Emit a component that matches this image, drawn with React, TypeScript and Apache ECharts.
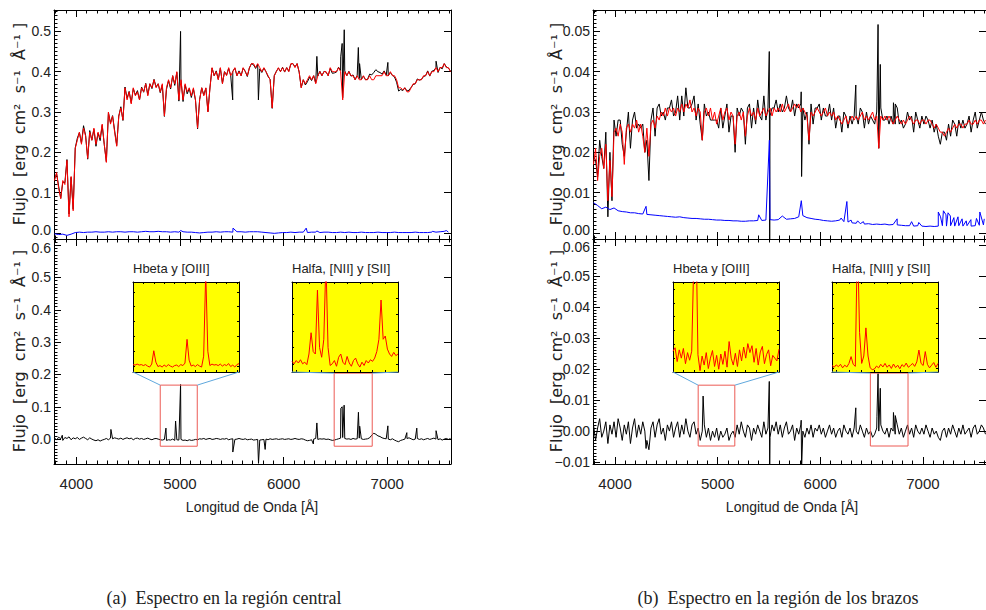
import React, { useEffect, useRef } from "react";
import * as echarts from "echarts";

const SANS = '"Liberation Sans", Arial, sans-serif';
const WIDE = '"DejaVu Sans", sans-serif';
const SERIF = '"Liberation Serif", "DejaVu Serif", serif';

// wavelength sampling of the hand-read spectra
const waveStart = 3790;
const waveStep = 20;
const blueStep = 40;
const X_MIN = 3785;
const X_MAX = 7615;

const xTickValues = [4000, 5000, 6000, 7000];
const leftTopYTicks = [0, 0.1, 0.2, 0.3, 0.4, 0.5];
const leftBottomYTicks = [0, 0.1, 0.2, 0.3, 0.4, 0.5, 0.6];
const rightTopYTicks = [0, 0.01, 0.02, 0.03, 0.04, 0.05];
const rightBottomYTicks = [-0.01, 0, 0.01, 0.02, 0.03, 0.04, 0.05, 0.06];

// ---------- (a) central region ----------
const leftModel = [
  0.13, 0.15, 0.11, 0.085, 0.13, 0.12, 0.18, 0.04, 0.14, 0.055,
  0.21, 0.23, 0.25, 0.22, 0.26, 0.24, 0.185, 0.25, 0.23, 0.26,
  0.22, 0.25, 0.235, 0.27, 0.22, 0.175, 0.3, 0.27, 0.29, 0.25,
  0.215, 0.29, 0.31, 0.28, 0.36, 0.33, 0.35, 0.32, 0.36, 0.34,
  0.35, 0.33, 0.36, 0.35, 0.37, 0.34, 0.37, 0.36, 0.38, 0.36,
  0.37, 0.35, 0.37, 0.29, 0.36, 0.38, 0.36, 0.39, 0.37, 0.4,
  0.33, 0.38, 0.33, 0.37, 0.35, 0.36, 0.34, 0.36, 0.33, 0.26,
  0.33, 0.36, 0.34, 0.36, 0.3, 0.36, 0.41, 0.39, 0.4, 0.38,
  0.41, 0.37, 0.4, 0.39, 0.41, 0.39, 0.4, 0.41, 0.39, 0.4,
  0.39, 0.41, 0.4, 0.39, 0.41, 0.42, 0.42, 0.41, 0.42, 0.41,
  0.4, 0.41, 0.4, 0.39, 0.38, 0.31, 0.39, 0.4, 0.41, 0.4,
  0.41, 0.4, 0.41, 0.4, 0.42, 0.42, 0.41, 0.42, 0.4, 0.36,
  0.38, 0.37, 0.38, 0.39, 0.38, 0.39, 0.37, 0.39, 0.4, 0.39,
  0.4, 0.4, 0.39, 0.41, 0.4, 0.4, 0.4, 0.41, 0.4, 0.33,
  0.4, 0.39, 0.4, 0.39, 0.39, 0.38, 0.39, 0.38, 0.38, 0.39,
  0.38, 0.38, 0.39, 0.38, 0.38, 0.39, 0.39, 0.39, 0.39, 0.4,
  0.39, 0.39, 0.4, 0.39, 0.39, 0.38, 0.36, 0.36, 0.355, 0.36,
  0.35, 0.35, 0.36, 0.37, 0.37, 0.38, 0.38, 0.38, 0.39, 0.39,
  0.4, 0.39, 0.4, 0.4, 0.41, 0.4, 0.41, 0.41, 0.42, 0.41,
  0.41, 0.4,
];
const leftResidual = [
  0.004, -0.003, 0.006, 0.001, -0.004, 0.005, 0.002, 0.007, -0.002, 0.004,
  0.001, 0.005, -0.001, 0.003, 0.006, 0.002, -0.002, 0.004, 0.0, -0.003,
  -0.005, -0.002, -0.006, -0.003, -0.001, 0.002, -0.002, 0.003, 0.001, 0.004,
  0.002, 0.0, 0.003, -0.001, 0.002, 0.004, 0.001, 0.003, -0.002, 0.002,
  0.003, 0.0, 0.002, -0.001, 0.001, 0.003, 0.0, -0.002, 0.001, 0.002,
  0.0, -0.002, -0.003, -0.001, -0.004, -0.002, -0.003, 0.0, -0.004, -0.002,
  -0.003, -0.001, -0.004, -0.003, -0.005, -0.002, -0.004, -0.003, -0.001, -0.002,
  0.001, 0.0, 0.002, -0.001, 0.001, 0.002, -0.001, 0.0, 0.002, 0.001,
  -0.001, 0.001, 0.0, 0.002, -0.002, 0.0, 0.001, -0.001, 0.0, 0.002,
  0.0, -0.001, 0.001, -0.002, -0.001, 0.0, -0.003, -0.002, -0.001, -0.003,
  -0.002, -0.001, 0.0, -0.002, 0.001, -0.001, 0.0, 0.001, -0.001, 0.0,
  0.001, -0.001, 0.0, 0.001, -0.001, 0.0, 0.002, 0.0, -0.001, 0.001,
  0.0, -0.003, -0.005, -0.004, -0.002, 0.0, 0.002, -0.001, 0.001, 0.0,
  0.001, -0.001, 0.0, -0.002, -0.004, -0.003, -0.001, 0.001, 0.003, 0.005,
  0.002, 0.0, 0.001, -0.001, 0.002, 0.0, 0.001, 0.003, 0.001, -0.001,
  0.0, 0.001, 0.004, 0.012, 0.018, 0.015, 0.01, 0.008, 0.004, 0.002,
  0.001, 0.0, -0.002, 0.001, -0.003, -0.006, -0.008, -0.004, -0.002, 0.0,
  0.002, 0.004, 0.001, -0.002, 0.0, 0.002, -0.001, 0.001, -0.002, 0.0,
  0.002, -0.001, 0.001, 0.003, 0.0, -0.002, 0.001, -0.003, 0.0, 0.002,
  -0.001, 0.002,
];
const leftBlue = [
  -0.002, -0.004, -0.003, -0.006, -0.003, 0.001, 0.002, 0.001, 0.002, 0.002,
  0.003, 0.002, 0.002, 0.003, 0.002, 0.003, 0.003, 0.002, 0.003, 0.003,
  0.002, 0.003, 0.004, 0.003, 0.003, 0.004, 0.003, 0.003, 0.002, 0.003,
  0.002, 0.003, 0.002, 0.002, 0.001, 0.0, 0.001, 0.002, 0.002, 0.003,
  0.002, 0.003, 0.003, 0.002, 0.003, 0.003, 0.002, 0.003, 0.003, 0.003,
  0.002, 0.001, 0.0, -0.001, 0.0, 0.001, 0.001, 0.002, 0.001, 0.002,
  0.002, 0.001, 0.002, 0.002, 0.001, 0.002, 0.002, 0.001, 0.001, 0.002,
  0.001, 0.002, 0.001, 0.001, 0.002, 0.001, 0.001, 0.001, 0.002, 0.001,
  0.001, 0.001, 0.002, 0.001, 0.001, 0.001, 0.001, 0.002, 0.001, 0.001,
  0.001, 0.002, 0.002, 0.003, 0.004, 0.002,
];
// [wavelength, flux] narrow features
const leftTopSpikes = [
  [5006, 0.5], [5509, 0.33], [5757, 0.33], [6321, 0.438], [6551, 0.437],
  [6565, 0.47], [6585, 0.504], [6721, 0.46], [6733, 0.42], [7006, 0.423], [7471, 0.426],
];
const leftBottomSpikes = [
  [3865, 0.012], [4334, 0.03], [4865, 0.034], [4958, 0.056], [5006, 0.169],
  [5510, -0.04], [5758, -0.075], [5822, -0.032], [6287, -0.015], [6321, 0.05],
  [6552, 0.095], [6565, 0.1], [6584, 0.105], [6722, 0.083], [6734, 0.04],
  [7006, 0.041], [7189, 0.02], [7285, 0.034], [7471, 0.026],
];
const leftBlueSpikes = [[5008, 0.006], [5512, 0.012], [6218, 0.012], [6320, 0.005], [7435, 0.004], [7570, 0.006]];

// ---------- (b) arms region ----------
const rightModel = [
  0.017, 0.021, 0.013, 0.019, 0.021, 0.016, 0.022, 0.008, 0.018, 0.009,
  0.025, 0.026, 0.024, 0.027, 0.025, 0.017, 0.026, 0.027, 0.025, 0.027,
  0.026, 0.028, 0.025, 0.027, 0.024, 0.02, 0.026, 0.019, 0.027, 0.028,
  0.026, 0.029, 0.028, 0.03, 0.029, 0.031, 0.029, 0.031, 0.03, 0.031,
  0.029, 0.031, 0.03, 0.032, 0.03, 0.032, 0.031, 0.033, 0.03, 0.031,
  0.029, 0.031, 0.03, 0.023, 0.03, 0.031, 0.029, 0.031, 0.028, 0.03,
  0.027, 0.029, 0.031, 0.028, 0.03, 0.031, 0.028, 0.03, 0.029, 0.022,
  0.029, 0.03, 0.028, 0.03, 0.024, 0.029, 0.031, 0.029, 0.03, 0.028,
  0.031, 0.029, 0.03, 0.031, 0.029, 0.03, 0.031, 0.029, 0.031, 0.03,
  0.031, 0.03, 0.032, 0.03, 0.031, 0.032, 0.03, 0.031, 0.032, 0.031,
  0.032, 0.03, 0.031, 0.03, 0.029, 0.023, 0.03, 0.029, 0.03, 0.031,
  0.03, 0.029, 0.03, 0.031, 0.029, 0.03, 0.029, 0.03, 0.028, 0.029,
  0.028, 0.027, 0.028, 0.029, 0.027, 0.028, 0.029, 0.028, 0.029, 0.028,
  0.029, 0.03, 0.028, 0.029, 0.028, 0.029, 0.03, 0.028, 0.029, 0.021,
  0.029, 0.028, 0.029, 0.028, 0.029, 0.028, 0.027, 0.028, 0.029, 0.028,
  0.027, 0.028, 0.027, 0.028, 0.029, 0.028, 0.027, 0.028, 0.028, 0.027,
  0.028, 0.028, 0.027, 0.028, 0.028, 0.027, 0.026, 0.027, 0.026, 0.025,
  0.025, 0.024, 0.025, 0.026, 0.025, 0.026, 0.027, 0.026, 0.027, 0.027,
  0.026, 0.027, 0.027, 0.028, 0.027, 0.027, 0.028, 0.027, 0.028, 0.028,
  0.027, 0.028,
];
const rightResidual = [
  0.002, -0.003, 0.001, 0.004, -0.002, 0.0, 0.003, -0.004, 0.002, -0.001,
  0.003, -0.002, 0.004, 0.001, -0.003, 0.002, -0.001, 0.003, -0.004, 0.001,
  0.004, -0.002, 0.002, -0.001, 0.003, 0.0, -0.003, -0.006, 0.001, 0.003,
  -0.002, 0.002, 0.004, -0.001, 0.001, -0.003, 0.002, 0.0, 0.003, -0.002,
  0.001, 0.003, -0.002, 0.002, -0.001, 0.004, 0.0, -0.002, 0.002, 0.003,
  -0.001, 0.001, -0.003, 0.0, 0.002, -0.002, 0.001, -0.003, 0.0, -0.002,
  0.001, -0.003, 0.0, -0.002, -0.001, 0.001, -0.003, -0.001, 0.0, -0.002,
  0.002, -0.001, 0.003, 0.0, -0.002, 0.002, 0.001, -0.003, 0.001, -0.001,
  0.002, 0.0, -0.002, 0.003, -0.001, 0.001, -0.002, 0.002, 0.0, 0.003,
  -0.001, 0.002, -0.002, 0.001, 0.003, -0.001, 0.0, 0.002, -0.003, 0.001,
  -0.001, 0.002, 0.0, -0.002, 0.001, -0.001, 0.002, -0.002, 0.001, 0.0,
  0.002, -0.001, 0.001, -0.002, 0.0, 0.002, -0.001, 0.001, -0.002, 0.0,
  0.001, -0.002, 0.002, 0.0, -0.001, 0.001, -0.002, 0.001, 0.0, -0.001,
  0.002, 0.0, -0.002, 0.001, -0.001, 0.0, -0.002, -0.001, 0.001, 0.0,
  0.002, 0.0, -0.001, 0.001, -0.002, 0.001, 0.0, -0.001, 0.002, -0.001,
  0.001, -0.002, 0.0, 0.002, -0.001, 0.001, -0.002, 0.002, 0.0, -0.001,
  0.001, -0.001, 0.002, 0.0, -0.002, 0.001, -0.001, 0.0, -0.002, -0.003,
  0.0, 0.001, -0.002, 0.001, -0.001, 0.002, 0.0, -0.002, 0.001, -0.001,
  0.002, -0.001, 0.0, 0.001, -0.002, 0.001, 0.002, -0.001, 0.0, 0.002,
  0.001, -0.001,
];
const rightBlue = [
  0.0075, 0.0068, 0.006, 0.0064, 0.0058, 0.0062, 0.0055, 0.0053, 0.0052, 0.005,
  0.005, 0.0048, 0.0047, 0.0046, 0.0045, 0.0044, 0.0043, 0.0042, 0.0041, 0.004,
  0.0039, 0.004, 0.0038, 0.0037, 0.0036, 0.0036, 0.0035, 0.0034, 0.0034, 0.0033,
  0.0032, 0.0032, 0.0031, 0.0031, 0.003, 0.003, 0.0029, 0.0029, 0.003, 0.003,
  0.0031, 0.0031, 0.0032, 0.0033, 0.0032, 0.0033, 0.0042, 0.0034, 0.0035, 0.0036,
  0.004, 0.0043, 0.0038, 0.0036, 0.0034, 0.0033, 0.0031, 0.003, 0.0029, 0.003,
  0.0032, 0.0028, 0.0027, 0.0025, 0.0024, 0.0023, 0.0022, 0.0023, 0.0021, 0.0022,
  0.0021, 0.0022, 0.002, 0.0021, 0.002, 0.0019, 0.0018, 0.0018, 0.0017, 0.0018,
  0.0017, 0.0016, 0.0017, 0.0016, 0.0017, 0.0018, 0.0017, 0.0018, 0.0017, 0.0018,
  0.0017, 0.0018, 0.0017, 0.0018, 0.0019, 0.002,
];
const rightTopSpikes = [
  [5503, 0.045], [5507, -0.002], [5814, 0.035], [5818, 0.014], [6346, 0.0367],
  [6552, 0.0325], [6563, 0.0517], [6585, 0.0418], [6713, 0.0323], [6731, 0.032],
];
const rightBottomSpikes = [
  [4302, -0.0056], [4858, 0.0113], [5503, 0.016], [5507, -0.013], [5814, 0.0035],
  [5818, -0.012], [6346, 0.0075], [6552, 0.0046], [6563, 0.0186], [6585, 0.0138],
  [6713, 0.006], [6731, 0.005],
];
const rightBlueSpikes = [
  [4302, 0.0066], [5400, 0.0045], [5504, 0.023], [5815, 0.008], [6203, 0.0037],
  [6259, 0.0078], [6300, 0.0032], [6364, 0.003], [6420, 0.0028], [6749, 0.0035],
  [6890, 0.0028], [6960, 0.0026], [7150, 0.0052], [7172, 0.004], [7200, 0.0055],
  [7225, 0.0045], [7245, 0.005], [7268, 0.0042], [7302, 0.0038], [7342, 0.004],
  [7382, 0.0035], [7422, 0.003], [7468, 0.0033], [7522, 0.0036], [7555, 0.0052], [7598, 0.0035],
];

// ---------- inset zooms ----------
const insetHbStart = 4800;
const insetHbStep = 6;
const insetHaStart = 6500;
const insetHaStep = 5;
const leftInsetHb = [
  0.003, 0.002, 0.004, 0.002, 0.003, 0.001, 0.003, 0.0, -0.002, 0.004,
  0.031, 0.008, -0.001, 0.001, -0.002, 0.002, -0.001, 0.003, 0.0, -0.002,
  0.001, 0.002, -0.001, 0.003, 0.001, 0.006, 0.054, 0.012, 0.0, 0.002,
  -0.001, 0.003, 0.0, -0.002, 0.02, 0.19, 0.03, 0.001, 0.004, 0.002,
  0.003, 0.001, 0.004, 0.0, 0.003, 0.001, 0.005, -0.001, 0.002, -0.002,
  0.003, 0.005,
];
const leftInsetHa = [
  0.003, 0.0, 0.004, 0.001, 0.005, 0.0, 0.002, -0.001, 0.012, 0.038,
  0.015, 0.012, 0.09, 0.02, 0.008, 0.03, 0.125, 0.02, -0.002, 0.0,
  0.004, -0.003, 0.008, 0.012, 0.002, -0.001, 0.009, 0.001, -0.003, 0.004,
  0.007, 0.0, -0.004, 0.002, -0.002, 0.004, 0.001, 0.005, 0.003, 0.007,
  0.015, 0.03, 0.078, 0.03, 0.034, 0.018, 0.012, 0.009, 0.014, 0.01,
  0.012,
];
const rightInsetHb = [
  0.001, 0.0015, -0.0005, 0.0012, 0.0, 0.0014, -0.0008, 0.0008, -0.0003, 0.001,
  0.014, 0.02, 0.0005, -0.0018, 0.0003, -0.001, 0.0008, -0.0015, 0.0, 0.0011,
  -0.0012, 0.0004, -0.0016, 0.0006, -0.0009, 0.001, -0.0013, 0.0024, 0.0, -0.001,
  0.0007, -0.0012, 0.0012, -0.0004, 0.0016, 0.0, 0.0021, 0.0008, 0.0018, -0.0006,
  0.0014, -0.001, 0.0009, 0.0017, -0.0008, 0.0005, 0.0012, -0.0011, 0.0004, 0.0,
  -0.0004, 0.0013,
];
const rightInsetHa = [
  0.0008, 0.0002, 0.001, 0.0004, 0.0012, 0.0, 0.0009, 0.0003, 0.0015, 0.0038,
  0.0012, 0.0005, 0.045, 0.012, 0.0015, 0.004, 0.0135, 0.004, 0.0, -0.0006,
  -0.0004, 0.0006, 0.0, 0.0012, 0.0003, 0.0015, 0.0002, 0.001, -0.0002, 0.0013,
  0.0001, 0.0009, -0.0003, 0.0011, 0.0004, 0.0016, 0.0002, 0.0008, 0.0015, 0.0005,
  0.002, 0.006, 0.0015, 0.0008, 0.0055, 0.0012, 0.0, 0.0009, 0.0018, 0.0002,
  0.0015,
];

// zoom boxes (wavelength range, flux range)
const hbBoxWave = [4810, 5167];
const haBoxWave = [6488, 6855];
const leftHbBoxFlux = [-0.022, 0.167];
const leftHaBoxFlux = [-0.022, 0.204];
const rightHbBoxFlux = [-0.0048, 0.0148];
const rightHaBoxFlux = [-0.0048, 0.0187];

// ---------- layout ----------
const L_TOP = { left: 54, top: 10, width: 397, height: 229 };
const L_BOT = { left: 54, top: 239, width: 397, height: 225 };
const R_TOP = { left: 593, top: 10, width: 397, height: 229 };
const R_BOT = { left: 593, top: 239, width: 397, height: 225 };
const INSETS = [
  { left: 133, top: 282, width: 106, height: 90 },
  { left: 292, top: 282, width: 106, height: 90 },
  { left: 673, top: 282, width: 106, height: 90 },
  { left: 832, top: 282, width: 106, height: 90 },
];

function steps(a: number, b: number, s: number, dec: number) {
  const out: number[] = [];
  const n = Math.round((b - a) / s);
  for (let i = 0; i <= n; i++) out.push(+(a + i * s).toFixed(dec));
  return out;
}

function spectrum(values: number[], start: number, step: number, spikes: number[][], base?: number[]) {
  const pts: number[][] = values.map((v, i) => [start + step * i, base ? +(base[i] + v).toFixed(5) : v]);
  spikes.forEach((s) => pts.push([s[0], s[1]]));
  pts.sort((a, b) => a[0] - b[0]);
  return pts;
}

function boxData(w: number[], f: number[]) {
  return [[w[0], f[0]], [w[1], f[0]], [w[1], f[1]], [w[0], f[1]], [w[0], f[0]]];
}

export default function App() {
  const ref = useRef<HTMLDivElement>(null);
  useEffect(() => {
    if (!ref.current) return;
    const chart = echarts.init(ref.current, undefined, { renderer: "svg" });

    const xAxes: any[] = [];
    const yAxes: any[] = [];
    const lineStyle = { color: "#000", width: 1 };
    const xLabelStyle = { fontSize: 15, fontFamily: SANS, color: "#222" };
    const yLabelStyle = {
      fontSize: 14, fontFamily: SANS, color: "#222",
      rich: {
        lo: { fontSize: 14, fontFamily: SANS, color: "#222", padding: [0, 0, 5, 0] },
        hi: { fontSize: 14, fontFamily: SANS, color: "#222", padding: [5, 0, 0, 0] },
      },
    };
    const xMinor = steps(3800, 7600, 100, 0).filter((v) => v % 1000 !== 0);

    function mainAxes(gi: number, yMin: number, yMax: number, yMajor: number[], yMinor: number[], fmt: (v: number) => string, showX: boolean, edge: string) {
      const base = { type: "value", gridIndex: gi, splitLine: { show: false }, z: 1 };
      const line = { show: true, onZero: false, lineStyle };
      const noLine = { show: false, onZero: false };
      // the label sitting at the shared border is nudged away from its neighbour
      const edgeValue = edge === "lo" ? yMajor[yMajor.indexOf(0)] : yMajor[yMajor.length - 1];
      const labelFmt = (v: number) => (Math.abs(v - edgeValue) < 1e-9 ? `{${edge}|${fmt(v)}}` : fmt(v));
      xAxes.push({ ...base, min: X_MIN, max: X_MAX, position: "bottom", axisLine: line,
        axisTick: { show: true, inside: true, length: 7, customValues: xTickValues, lineStyle },
        axisLabel: showX ? { show: true, customValues: xTickValues, margin: 12, formatter: (v: number) => String(v), ...xLabelStyle } : { show: false } });
      const xi = xAxes.length - 1;
      xAxes.push({ ...base, min: X_MIN, max: X_MAX, position: "bottom", axisLine: noLine,
        axisTick: { show: true, inside: true, length: 3.5, customValues: xMinor, lineStyle }, axisLabel: { show: false } });
      xAxes.push({ ...base, min: X_MIN, max: X_MAX, position: "top", axisLine: line,
        axisTick: { show: true, inside: true, length: 7, customValues: xTickValues, lineStyle }, axisLabel: { show: false } });
      xAxes.push({ ...base, min: X_MIN, max: X_MAX, position: "top", axisLine: noLine,
        axisTick: { show: true, inside: true, length: 3.5, customValues: xMinor, lineStyle }, axisLabel: { show: false } });
      yAxes.push({ ...base, min: yMin, max: yMax, position: "left", axisLine: line,
        axisTick: { show: true, inside: true, length: 7, customValues: yMajor, lineStyle },
        axisLabel: { show: true, customValues: yMajor, margin: 3, formatter: labelFmt, ...yLabelStyle } });
      const yi = yAxes.length - 1;
      yAxes.push({ ...base, min: yMin, max: yMax, position: "left", axisLine: noLine,
        axisTick: { show: true, inside: true, length: 3.5, customValues: yMinor, lineStyle }, axisLabel: { show: false } });
      yAxes.push({ ...base, min: yMin, max: yMax, position: "right", axisLine: line,
        axisTick: { show: true, inside: true, length: 7, customValues: yMajor, lineStyle }, axisLabel: { show: false } });
      return [xi, yi];
    }

    function insetAxes(gi: number, xMin: number, xMax: number, yMin: number, yMax: number) {
      const base = { type: "value", gridIndex: gi, splitLine: { show: false }, z: 6, axisLabel: { show: false } };
      const line = { show: true, onZero: false, lineStyle: { color: "#000", width: 1 } };
      const tick = { show: true, inside: true, length: 2, lineStyle: { color: "#000", width: 1 } };
      xAxes.push({ ...base, min: xMin, max: xMax, position: "bottom", splitNumber: 9, axisLine: line, axisTick: tick });
      const xi = xAxes.length - 1;
      xAxes.push({ ...base, min: xMin, max: xMax, position: "top", splitNumber: 9, axisLine: line, axisTick: tick });
      yAxes.push({ ...base, min: yMin, max: yMax, position: "left", splitNumber: 7, axisLine: line, axisTick: tick });
      const yi = yAxes.length - 1;
      yAxes.push({ ...base, min: yMin, max: yMax, position: "right", splitNumber: 7, axisLine: line, axisTick: tick });
      return [xi, yi];
    }

    const f1 = (v: number) => v.toFixed(1);
    const f2 = (v: number) => (v < 0 ? "\u2212" + Math.abs(v).toFixed(2) : v.toFixed(2));

    const [lx0, ly0] = mainAxes(0, -0.015, 0.553, leftTopYTicks, steps(-0.01, 0.55, 0.01, 2), f1, false, "lo");
    const [lx1, ly1] = mainAxes(1, -0.077, 0.619, leftBottomYTicks, steps(-0.07, 0.61, 0.01, 2), f1, true, "hi");
    const [rx0, ry0] = mainAxes(2, -0.0015, 0.0553, rightTopYTicks, steps(-0.001, 0.055, 0.001, 3), f2, false, "lo");
    const [rx1, ry1] = mainAxes(3, -0.0106, 0.0619, rightBottomYTicks, steps(-0.01, 0.061, 0.001, 3), f2, true, "hi");
    const hbEnd = insetHbStart + insetHbStep * (leftInsetHb.length - 1);
    const haEnd = insetHaStart + insetHaStep * (leftInsetHa.length - 1);
    const [ix0, iy0] = insetAxes(4, insetHbStart, hbEnd, -0.012, 0.17);
    const [ix1, iy1] = insetAxes(5, insetHaStart, haEnd, -0.01, 0.1);
    const [ix2, iy2] = insetAxes(6, insetHbStart, hbEnd, -0.002, 0.011);
    const [ix3, iy3] = insetAxes(7, insetHaStart, haEnd, -0.0014, 0.029);

    const ser = (xi: number, yi: number, data: any[], color: string, z = 2) => ({
      type: "line", xAxisIndex: xi, yAxisIndex: yi, data, symbol: "none", showSymbol: false, clip: true,
      lineStyle: { color, width: 1 }, itemStyle: { color }, z, silent: true, animation: false,
    });
    const BOX = "#ec5b55";
    const series = [
      ser(lx0, ly0, spectrum(leftResidual, waveStart, waveStep, leftTopSpikes, leftModel), "#000", 2),
      ser(lx0, ly0, spectrum(leftModel, waveStart, waveStep, []), "#ff0000", 3),
      ser(lx0, ly0, spectrum(leftBlue, waveStart, blueStep, leftBlueSpikes), "#0000ff", 3),
      ser(lx1, ly1, spectrum(leftResidual, waveStart, waveStep, leftBottomSpikes), "#000", 2),
      ser(lx1, ly1, boxData(hbBoxWave, leftHbBoxFlux), BOX, 3),
      ser(lx1, ly1, boxData(haBoxWave, leftHaBoxFlux), BOX, 3),
      ser(rx0, ry0, spectrum(rightResidual, waveStart, waveStep, rightTopSpikes, rightModel), "#000", 2),
      ser(rx0, ry0, spectrum(rightModel, waveStart, waveStep, []), "#ff0000", 3),
      ser(rx0, ry0, spectrum(rightBlue, waveStart, blueStep, rightBlueSpikes), "#0000ff", 3),
      ser(rx1, ry1, spectrum(rightResidual, waveStart, waveStep, rightBottomSpikes), "#000", 2),
      ser(rx1, ry1, boxData(hbBoxWave, rightHbBoxFlux), BOX, 3),
      ser(rx1, ry1, boxData(haBoxWave, rightHaBoxFlux), BOX, 3),
      ser(ix0, iy0, spectrum(leftInsetHb, insetHbStart, insetHbStep, []), "#ff0000", 7),
      ser(ix1, iy1, spectrum(leftInsetHa, insetHaStart, insetHaStep, []), "#ff0000", 7),
      ser(ix2, iy2, spectrum(rightInsetHb, insetHbStart, insetHbStep, []), "#ff0000", 7),
      ser(ix3, iy3, spectrum(rightInsetHa, insetHaStart, insetHaStep, []), "#ff0000", 7),
    ];

    const grids = [L_TOP, L_BOT, R_TOP, R_BOT].map((g) => ({ ...g, show: false, containLabel: false }))
      .concat(INSETS.map((g) => ({ ...g, show: true, backgroundColor: "#ffff00", borderWidth: 0, z: 5, containLabel: false } as any)));

    const txt = (text: string, x: number, y: number, font: string, size: number, rot = 0, align = "center") => ({
      type: "text", x, y, rotation: rot, z: 20,
      style: { text, fontFamily: font, fontSize: size, fill: "#222", align, verticalAlign: "middle", textAlign: align, textVerticalAlign: "middle" },
    });
    const yTitle = "Flujo  [erg  cm\u00b2  s\u207b\u00b9  \u00c5\u207b\u00b9 ]";
    const texts = [
      txt(yTitle, 19, 124, WIDE, 16, Math.PI / 2),
      txt(yTitle, 19, 351, WIDE, 16, Math.PI / 2),
      txt(yTitle, 556, 124, WIDE, 16, Math.PI / 2),
      txt(yTitle, 556, 351, WIDE, 16, Math.PI / 2),
      txt("Longitud de Onda [\u00c5]", 252, 507, SANS, 14),
      txt("Longitud de Onda [\u00c5]", 792, 507, SANS, 14),
      txt("Hbeta y [OIII]", INSETS[0].left, 268, SANS, 13, 0, "left"),
      txt("Halfa, [NII] y [SII]", INSETS[1].left, 268, SANS, 13, 0, "left"),
      txt("Hbeta y [OIII]", INSETS[2].left, 268, SANS, 13, 0, "left"),
      txt("Halfa, [NII] y [SII]", INSETS[3].left, 268, SANS, 13, 0, "left"),
      txt("(a)  Espectro en la regi\u00f3n central", 224, 598, SERIF, 18),
      txt("(b)  Espectro en la regi\u00f3n de los brazos", 778, 598, SERIF, 18),
    ];

    chart.setOption({
      animation: false,
      backgroundColor: "#fff",
      grid: grids,
      xAxis: xAxes,
      yAxis: yAxes,
      series,
      graphic: texts,
    });

    // connector lines from inset corners to zoom-box corners
    const conn: any[] = [];
    const link = (inset: any, xi: number, yi: number, w: number[], f: number[]) => {
      const tl = chart.convertToPixel({ xAxisIndex: xi, yAxisIndex: yi } as any, [w[0], f[1]]) as number[];
      const tr = chart.convertToPixel({ xAxisIndex: xi, yAxisIndex: yi } as any, [w[1], f[1]]) as number[];
      const by = inset.top + inset.height;
      conn.push({ type: "line", z: 15, shape: { x1: inset.left, y1: by, x2: tl[0], y2: tl[1] }, style: { stroke: "#5fa8dd", lineWidth: 1 } });
      conn.push({ type: "line", z: 15, shape: { x1: inset.left + inset.width, y1: by, x2: tr[0], y2: tr[1] }, style: { stroke: "#5fa8dd", lineWidth: 1 } });
    };
    link(INSETS[0], lx1, ly1, hbBoxWave, leftHbBoxFlux);
    link(INSETS[1], lx1, ly1, haBoxWave, leftHaBoxFlux);
    link(INSETS[2], rx1, ry1, hbBoxWave, rightHbBoxFlux);
    link(INSETS[3], rx1, ry1, haBoxWave, rightHaBoxFlux);
    chart.setOption({ graphic: texts.concat(conn) });

    return () => chart.dispose();
  }, []);
  return <div ref={ref} style={{ position: "fixed", left: 0, top: 0, width: 986, height: 610, background: "#fff" }} />;
}
